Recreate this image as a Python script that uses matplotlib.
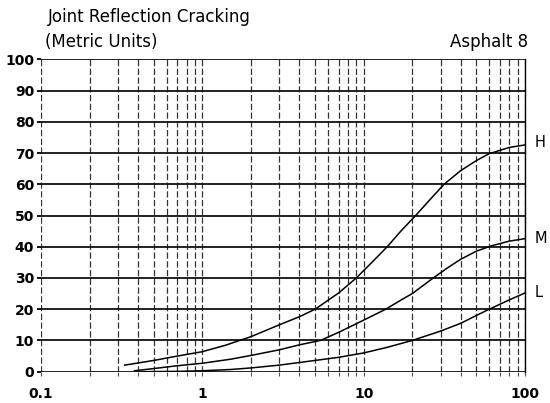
import numpy as np
import matplotlib.pyplot as plt
from matplotlib.ticker import FixedLocator, LogLocator, NullFormatter

# curve data (x = log scale)
h_x = [0.33, 0.5, 0.7, 1, 1.4, 1.7, 2, 3, 4, 5, 7, 9, 11, 14, 17, 21, 26,
       31.5, 40, 50, 60, 80, 100]
h_y = [2.1, 3.6, 5.0, 6.4, 8.5, 10, 11.2, 15, 17.6, 20, 25.2, 30, 34.5, 40,
       45, 50, 55.3, 60, 64.4, 67.6, 69.8, 71.8, 72.6]
m_x = [0.38, 0.5, 0.7, 1, 1.5, 2, 3, 4, 5.4, 7, 10, 13.7, 17, 20, 27, 33,
       40, 50, 62, 80, 100]
m_y = [0.3, 1.0, 1.9, 2.7, 4.0, 5.2, 7.0, 8.6, 10, 12.6, 16.5, 20, 22.9, 25,
       30, 33.2, 36, 38.6, 40.3, 41.8, 42.6]
l_x = [0.42, 0.7, 1, 1.5, 2, 3, 5, 7, 10, 14, 20, 30, 40, 50, 60, 80, 100]
l_y = [0, 0.1, 0.3, 0.7, 1.2, 2.1, 3.6, 4.6, 6.0, 7.8, 10, 13, 15.5, 18, 20,
       23, 25.2]

x_ticks = [0.1, 1, 10, 100]
x_labels = ['0.1', '1', '10', '100']
y_ticks = list(range(0, 101, 10))

plt.rcParams['font.family'] = 'DejaVu Sans'
fig = plt.figure(figsize=(5.5, 4.03), dpi=100)
ax = fig.add_axes([0.0745, 0.0777, 0.88, 0.775])

ax.set_xscale('log')
ax.set_xlim(0.1, 100)
ax.set_ylim(0, 100)

ax.plot(h_x, h_y, color='black', lw=1.1)
ax.plot(m_x, m_y, color='black', lw=1.1)
ax.plot(l_x, l_y, color='black', lw=1.1)

# grid: solid horizontals, dashed verticals
ax.xaxis.set_major_locator(FixedLocator(x_ticks))
ax.xaxis.set_minor_locator(LogLocator(base=10, subs=np.arange(2, 10)))
ax.xaxis.set_minor_formatter(NullFormatter())
ax.set_xticks(x_ticks, x_labels)
ax.set_yticks(y_ticks)
ax.grid(axis='y', color='#111111', lw=1.3, ls='-')
ax.grid(axis='x', which='both', color='#333333', lw=0.9, ls=(0, (5, 2)))
ax.set_axisbelow(True)

for s in ['left', 'bottom', 'top']:
    ax.spines[s].set_visible(False)
ax.spines['right'].set_linewidth(1.0)

ax.tick_params(axis='x', which='both', length=3, width=0.8, color='#555555',
               labelsize=10, pad=8)
ax.tick_params(axis='y', length=3, width=1.3, labelsize=10, pad=2)
for t in ax.get_xticklabels() + ax.get_yticklabels():
    t.set_fontweight('bold')

# curve labels
tr = ax.get_yaxis_transform()
ax.text(1.02, 73.3, 'H', transform=tr, fontsize=10.5, va='center', ha='left')
ax.text(1.02, 42.8, 'M', transform=tr, fontsize=10.5, va='center', ha='left')
ax.text(1.02, 25.2, 'L', transform=tr, fontsize=10.5, va='center', ha='left')

fig.text(48 / 550, 1 - 22 / 403, 'Joint Reflection Cracking', fontsize=12,
         va='baseline', ha='left')
fig.text(45 / 550, 1 - 47 / 403, '(Metric Units)', fontsize=12,
         va='baseline', ha='left')
fig.text(528 / 550, 1 - 47 / 403, 'Asphalt 8', fontsize=12,
         va='baseline', ha='right')

fig.savefig('out.png', dpi=100)
